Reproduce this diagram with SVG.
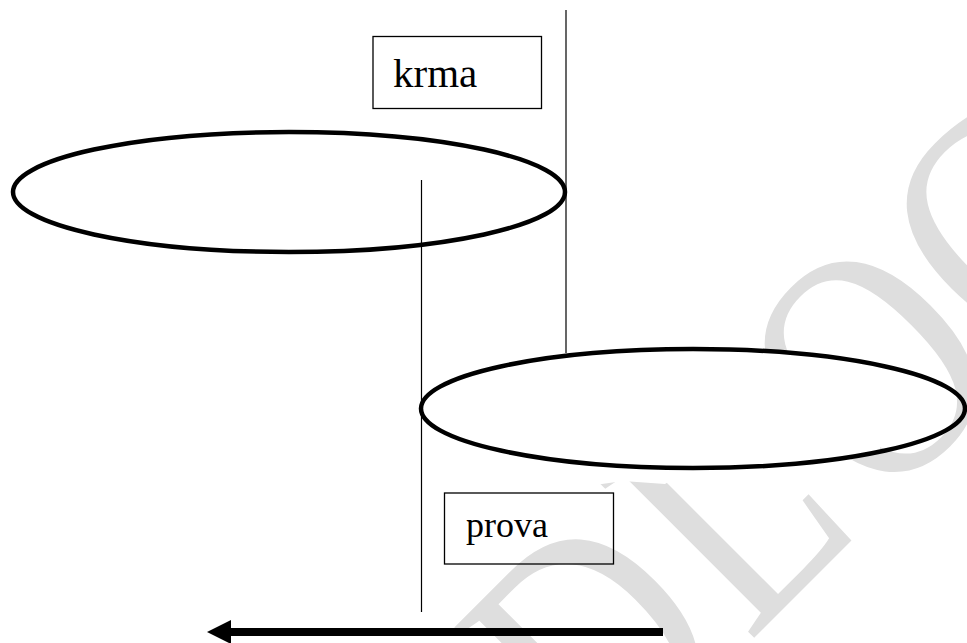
<svg xmlns="http://www.w3.org/2000/svg" width="967" height="643" viewBox="0 0 967 643">
  <style>
    .bg { fill: #ffffff; }
    .wm { font-family: "Liberation Serif", "Times New Roman", serif; font-size: 335px; fill: #dedede; }
    .ell { fill: none; stroke: #000000; stroke-width: 4.5; }
    .box { fill: none; stroke: #000000; stroke-width: 1.3; }
    .lbl { font-family: "Liberation Serif", "Times New Roman", serif; fill: #000000; }
    .thin { stroke: #000000; stroke-width: 1.2; fill: none; }
    .thick { stroke: #000000; stroke-width: 8; fill: none; }
  </style>
  <defs>
    <marker id="head" markerUnits="userSpaceOnUse" viewBox="0 0 24 24" markerWidth="24" markerHeight="24" refX="0" refY="12" orient="auto">
      <path d="M0,0 L24,12 L0,24 Z" fill="#000000"/>
    </marker>
    <clipPath id="wmclip">
      <path clip-rule="evenodd" d="M0,0 H967 V643 H0 Z M421,408.5 A272,59.5 0 0 1 880,365.3 L880,451.7 A272,59.5 0 0 1 690,468 L665,484 L623,481 L595,485 L545,492 L545,458.4 A272,59.5 0 0 1 421,408.5 Z"/>
    </clipPath>
  </defs>
  <rect class="bg" x="0" y="0" width="967" height="643"/>
  <g id="watermark" clip-path="url(#wmclip)">
    <text class="wm" transform="translate(751,641) rotate(-45) scale(0.8,1)" x="-260 -4 227 475" y="0">DLOG</text>
  </g>
  <g id="connectors">
    <line class="thin" x1="566" y1="10" x2="566" y2="353"/>
    <line class="thin" x1="421.5" y1="180" x2="421.5" y2="612"/>
    <line class="thick" x1="663" y1="632" x2="231" y2="632" marker-end="url(#head)"/>
  </g>
  <g id="node-ellipse-top">
    <ellipse class="ell" cx="289" cy="192" rx="276" ry="60"/>
  </g>
  <g id="node-ellipse-bottom">
    <ellipse class="ell" cx="693" cy="408.5" rx="272" ry="59.5"/>
  </g>
  <g id="node-krma">
    <rect class="box" x="373" y="36.5" width="168.5" height="72"/>
    <text class="lbl" x="393" y="87" font-size="41">krma</text>
  </g>
  <g id="node-prova">
    <rect class="box" x="444.5" y="493" width="169" height="71"/>
    <text class="lbl" x="466" y="537" font-size="36">prova</text>
  </g>
</svg>
